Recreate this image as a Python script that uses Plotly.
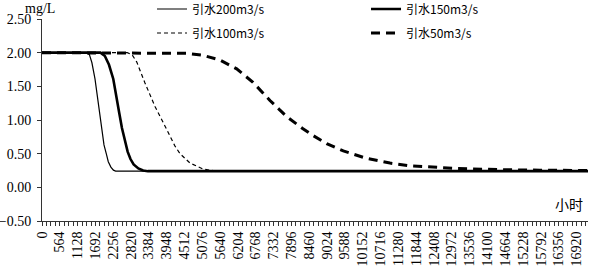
import plotly.graph_objects as go

# ---- data (hours, concentration mg/L) ----
hours_200 = [0, 1420, 1500, 1580, 1677, 1750, 1813, 1890, 1962, 2040, 2098, 2180, 2260, 2330, 17280]
conc_200 = [2.00, 2.00, 1.97, 1.85, 1.61, 1.35, 1.12, 0.86, 0.63, 0.49, 0.38, 0.30, 0.255, 0.24, 0.24]

hours_150 = [0, 1850, 1990, 2120, 2256, 2350, 2446, 2530, 2620, 2710, 2800, 2900, 3050, 3200, 3350, 17280]
conc_150 = [2.00, 2.00, 1.95, 1.82, 1.61, 1.38, 1.10, 0.88, 0.68, 0.53, 0.42, 0.34, 0.28, 0.25, 0.24, 0.24]

hours_100 = [0, 2700, 2850, 3000, 3259, 3576, 3946, 4200, 4367, 4684, 5104, 5411, 5800, 17280]
conc_100 = [2.00, 2.00, 1.97, 1.86, 1.55, 1.20, 0.86, 0.62, 0.50, 0.36, 0.27, 0.25, 0.24, 0.24]

hours_50 = [0, 4050, 4600, 5095, 5633, 6161, 6677, 7215, 7744, 8259, 8576, 9009, 9535,
            10275, 11013, 11646, 12373, 13123, 13956, 14494, 15759, 17280]
conc_50 = [2.00, 2.00, 1.99, 1.96, 1.89, 1.76, 1.56, 1.29, 1.05, 0.87, 0.77, 0.65, 0.54,
           0.43, 0.36, 0.32, 0.295, 0.28, 0.27, 0.262, 0.255, 0.25]

names = ["引水200m3/s", "引水150m3/s", "引水100m3/s", "引水50m3/s"]

x_label_step = 564
x_minor_step = 141
x_max = 17280
y_ticks = [-0.5, 0.0, 0.5, 1.0, 1.5, 2.0, 2.5]

serif = "Liberation Serif"
cjk = "Noto Sans CJK SC"

fig = go.Figure()
fig.add_trace(go.Scatter(x=hours_200, y=conc_200, mode="lines", name=names[0],
                         line=dict(color="black", width=1.2), legend="legend"))
fig.add_trace(go.Scatter(x=hours_150, y=conc_150, mode="lines", name=names[1],
                         line=dict(color="black", width=2.6), legend="legend"))
fig.add_trace(go.Scatter(x=hours_100, y=conc_100, mode="lines", name=names[2],
                         line=dict(color="black", width=1.2, dash="4px,3px"), legend="legend2"))
fig.add_trace(go.Scatter(x=hours_50, y=conc_50, mode="lines", name=names[3],
                         line=dict(color="black", width=3, dash="9px,6px"), legend="legend2"))

axis_color = "#333333"
legend_common = dict(orientation="h", xanchor="left", yanchor="middle",
                     entrywidth=169, entrywidthmode="pixels", itemwidth=30,
                     font=dict(family=cjk, size=12, color="black"),
                     bgcolor="rgba(0,0,0,0)", borderwidth=0)

fig.update_layout(
    width=590, height=272,
    margin=dict(l=42, r=2, t=19, b=51, autoexpand=False),
    paper_bgcolor="white", plot_bgcolor="white",
    showlegend=True,
    legend=dict(x=0.2015, y=1.0495, **legend_common),
    legend2=dict(x=0.2015, y=0.9307, **legend_common),
    xaxis=dict(range=[0, x_max], tick0=0, dtick=x_label_step, tickangle=-90,
               tickformat="d",
               ticks="outside", ticklen=4, tickcolor=axis_color,
               minor=dict(dtick=x_minor_step, ticks="outside", ticklen=4, tickcolor=axis_color),
               showline=True, linecolor=axis_color, linewidth=1,
               showgrid=False, zeroline=False, automargin=False,
               tickfont=dict(family=serif, size=14, color="black")),
    yaxis=dict(range=[-0.5, 2.5], tickvals=y_ticks, tickformat=".2f",
               ticks="outside", ticklen=4, tickcolor=axis_color,
               showline=True, linecolor=axis_color, linewidth=1,
               showgrid=False, zeroline=False, ticklabelstandoff=3, automargin=False,
               tickfont=dict(family=serif, size=14, color="black")),
    annotations=[
        dict(text="mg/L", xref="paper", yref="paper", x=-0.0037, y=1.054,
             xanchor="center", yanchor="middle", showarrow=False,
             font=dict(family=serif, size=14, color="black")),
        dict(text="小时", xref="paper", yref="paper", x=0.965, y=0.084,
             xanchor="center", yanchor="middle", showarrow=False,
             font=dict(family=cjk, size=14, color="black")),
    ],
)

fig.write_html("out.html",
               config={"displayModeBar": False},
               post_script="document.body.style.margin='0px';document.body.style.padding='0px';")
